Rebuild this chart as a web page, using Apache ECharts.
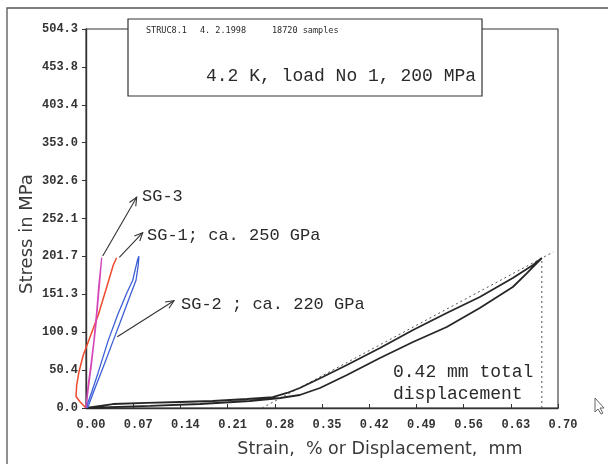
<!DOCTYPE html>
<html>
<head>
<meta charset="utf-8">
<title>STRUC8.1 stress - strain</title>
<script src="https://cdn.jsdelivr.net/npm/echarts@6/dist/echarts.min.js"></script>
<style>
html,body{margin:0;padding:0;background:#fff;}
#chart{width:608px;height:464px;}
</style>
</head>
<body>
<div id="chart"></div>
<script>
// tick labels as printed on the plot
var xTickLabels = ['0.00','0.07','0.14','0.21','0.28','0.35','0.42','0.49','0.56','0.63','0.70'];
var yTickLabels = ['0.0','50.4','100.9','151.3','201.7','252.1','302.6','353.0','403.4','453.8','504.3'];

// [strain or displacement, stress MPa]
var blackLoop = [[0,0],[0.040,5.3],[0.090,6.7],[0.139,8.0],[0.188,9.3],[0.239,12.0],[0.277,14.6],[0.298,20.0],
  [0.317,26.6],[0.351,41.3],[0.387,57.2],[0.436,79.8],[0.485,103.8],[0.535,126.4],[0.584,147.7],[0.633,173.0],
  [0.663,190.3],[0.676,199.6],[0.654,179.6],[0.633,161.0],[0.584,133.1],[0.535,107.8],[0.485,87.8],[0.436,66.5],
  [0.387,43.9],[0.347,26.6],[0.317,17.3],[0.288,13.3],[0.243,9.3],[0.169,5.3],[0.095,2.7],[0,0]];
var sg1Red = [[0,0],[-0.0089,8.4],[-0.0148,15.4],[-0.0138,30.6],[-0.0104,48.3],[-0.0040,70.5],[0.0034,88.2],
  [0.0108,106.1],[0.0182,123.8],[0.0257,146.0],[0.0331,168.1],[0.0405,190.3],[0.0455,200.0]];
var sg3Magenta = [[0,0],[0.0034,26.2],[0.0074,52.8],[0.0114,83.8],[0.0153,114.8],[0.0182,146.0],[0.0212,177.0],
  [0.0233,200.0],[0.0220,199.0],[0.0190,163.7],[0.0158,128.1],[0.0115,88.2],[0.0072,57.2],[0.0032,30.6],[0.0012,12.9],[0,0]];
var sg2Blue = [[0,0],[0.008,20],[0.018,47],[0.033,90],[0.047,124],[0.060,152],[0.0693,170],[0.0767,198],[0.0785,202],
  [0.0775,190],[0.0742,170],[0.064,146],[0.052,117],[0.0405,90],[0.027,58],[0.014,28],[0.004,4],[0.002,0]];
var guideVertical = [[0.676,0],[0.676,199.6]];
var guideSlope = [[0.261,0],[0.693,207.6]];

// annotation arrows, from curve to label (data coords)
var arrows = [
  [[0.0248,202.3],[0.0752,280.4]],
  [[0.0494,200.5],[0.0841,233.3]],
  [[0.0464,94.9],[0.1305,142.8]]
];

var xStep = 0.07, yStep = 50.43;
var labelFont = 'Liberation Mono';
var plotLeft = 86, plotRight = 50, plotTop = 29, plotBottom = 56;
// second, hidden grid with the same scale reaching into negative strain (red gauge goes below zero)
var pxPerUnit = (608 - plotLeft - plotRight) / 0.70;

var chart = echarts.init(document.getElementById('chart'));

function curve(data, color, width, dash, axisIdx) {
  return {
    type: 'line',
    data: data,
    xAxisIndex: axisIdx || 0,
    yAxisIndex: axisIdx || 0,
    showSymbol: false,
    silent: true,
    lineStyle: { color: color, width: width, type: dash || 'solid' }
  };
}

var option = {
  animation: false,
  backgroundColor: '#fff',
  grid: [{
    left: plotLeft, right: plotRight, top: plotTop, bottom: plotBottom,
    show: true, borderColor: '#333', borderWidth: 1.1
  }, {
    left: plotLeft - xStep * pxPerUnit, right: plotRight, top: plotTop, bottom: plotBottom
  }],
  xAxis: [{
    type: 'value', min: 0, max: 0.70, interval: xStep,
    splitLine: { show: false },
    axisLine: { lineStyle: { color: '#333', width: 1.4 } },
    axisTick: { inside: true, length: 4, lineStyle: { color: '#333' } },
    axisLabel: {
      margin: 11, color: '#333', fontFamily: labelFont, fontWeight: 'bold', fontSize: 12,
      padding: [0, 0, 0, 10],
      formatter: function (v) { return xTickLabels[Math.round(v / xStep)]; }
    }
  }, {
    gridIndex: 1, type: 'value', min: -xStep, max: 0.70, show: false
  }],
  yAxis: [{
    type: 'value', min: 0, max: 504.3, interval: yStep,
    splitLine: { show: false },
    axisLine: { lineStyle: { color: '#333', width: 1.4 } },
    axisTick: { length: 4, lineStyle: { color: '#333' } },
    axisLabel: {
      margin: 8, color: '#333', fontFamily: labelFont, fontWeight: 'bold', fontSize: 12,
      formatter: function (v) { return yTickLabels[Math.round(v / yStep)]; }
    }
  }, {
    gridIndex: 1, type: 'value', min: 0, max: 504.3, show: false
  }],
  series: [
    curve(guideSlope, '#555', 1, [2, 3]),
    curve(guideVertical, '#555', 1, [2, 3]),
    curve(blackLoop, '#262626', 1.8),
    curve(sg2Blue, '#3d5fd6', 1.3),
    curve(sg1Red, '#ee4a2e', 1.5, null, 1),
    curve(sg3Magenta, '#d447b8', 1.3)
  ]
};
chart.setOption(option);

function txt(x, y, s, font, align) {
  return {
    type: 'text', x: x, y: y, z: 110,
    style: { text: s, font: font, fill: '#2a2a2a', textAlign: align || 'left', textVerticalAlign: 'middle' }
  };
}

var g = [];
// outer frame of the printout
g.push({ type: 'rect', z: 100, shape: { x: 7, y: 8, width: 700, height: 500 },
  style: { fill: null, stroke: '#555', lineWidth: 1.3 } });
// header box
g.push({ type: 'rect', z: 105, shape: { x: 128, y: 19, width: 354, height: 77 },
  style: { fill: '#fff', stroke: '#333', lineWidth: 1.2 } });
g.push(txt(146, 31, 'STRUC8.1', '8.5px "DejaVu Sans Mono"'));
g.push(txt(200, 31, '4. 2.1998', '8.5px "DejaVu Sans Mono"'));
g.push(txt(272, 31, '18720 samples', '8.5px "DejaVu Sans Mono"'));
g.push(txt(206, 76, '4.2 K, load No 1, 200 MPa', '18px "Liberation Mono"'));

// curve labels
g.push(txt(142, 196, 'SG-3', '17px "Liberation Mono"'));
g.push(txt(147, 235, 'SG-1; ca. 250 GPa', '17px "Liberation Mono"'));
g.push(txt(181, 304, 'SG-2 ; ca. 220 GPa', '17px "Liberation Mono"'));
g.push(txt(393, 372, '0.42 mm total', '18px "Liberation Mono"'));
g.push(txt(393, 394, 'displacement', '18px "Liberation Mono"'));

// axis titles
g.push({ type: 'text', x: 27, y: 234, rotation: Math.PI / 2, z: 110,
  style: { text: 'Stress in MPa', font: '18px "DejaVu Sans"', fill: '#3a3a3a', textAlign: 'center', textVerticalAlign: 'middle' } });
g.push(txt(380, 449, 'Strain,  % or Displacement,  mm', '17.5px "DejaVu Sans"', 'center'));
g[g.length - 1].style.fill = '#3a3a3a';

// mouse pointer left on the screenshot
g.push({ type: 'polygon', z: 110,
  shape: { points: [[595, 398], [595, 412], [598, 409], [601, 414], [603, 413], [600, 408], [604, 408]] },
  style: { fill: '#fff', stroke: '#666', lineWidth: 1 } });

// arrows with open heads
arrows.forEach(function (a) {
  var p0 = chart.convertToPixel({ gridIndex: 0 }, a[0]);
  var p1 = chart.convertToPixel({ gridIndex: 0 }, a[1]);
  var ang = Math.atan2(p1[1] - p0[1], p1[0] - p0[0]);
  var len = 9, spread = 0.42;
  var h1 = [p1[0] - len * Math.cos(ang - spread), p1[1] - len * Math.sin(ang - spread)];
  var h2 = [p1[0] - len * Math.cos(ang + spread), p1[1] - len * Math.sin(ang + spread)];
  g.push({ type: 'line', z: 110, shape: { x1: p0[0], y1: p0[1], x2: p1[0], y2: p1[1] },
    style: { stroke: '#333', lineWidth: 1.1 } });
  g.push({ type: 'polyline', z: 110, shape: { points: [h1, p1, h2] },
    style: { stroke: '#333', fill: null, lineWidth: 1.1 } });
});

chart.setOption({ graphic: g });
</script>
</body>
</html>
